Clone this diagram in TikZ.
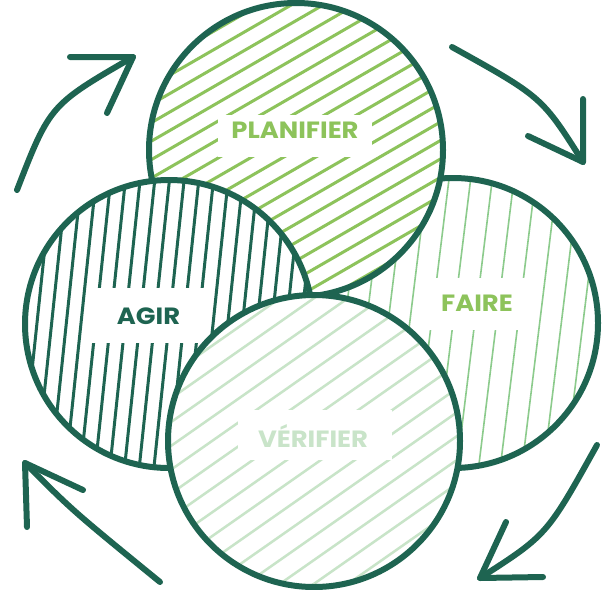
\documentclass[tikz,border=0pt]{standalone}
\usepackage{fontspec}
\setmainfont{Poppins}
\newfontfamily\labfont{Poppins}[FakeStretch=1.1]
\definecolor{dk}{HTML}{1E6451}
\definecolor{lg}{HTML}{8DC35B}
\definecolor{fg}{HTML}{8CCB8C}
\definecolor{vg}{HTML}{C8E4C8}
\definecolor{vt}{HTML}{C9E4C9}
\tikzset{
  ring/.style={circle, draw=dk, line width=6, inner sep=0, outer sep=0},
  labbox/.style={fill=white, inner sep=0, outer sep=0},
  lab/.style={font=\labfont\fontsize{23.5}{23.5}\selectfont\bfseries, inner sep=0, text depth=0pt, anchor=center},
  arr/.style={draw=dk, line width=6, line cap=round, line join=round}
}
% #1 x, #2 y, #3 radius, #4 angle, #5 spacing, #6 line style
\newcommand\hatchdisc[6]{%
  \begin{scope}
    \clip (#1,#2) circle[radius=#3];
    \fill[white] (#1,#2) circle[radius=#3];
    \foreach \k in {-12,...,12}
      \draw[#6] ($(#1,#2)+(#4:-200)+(#4+90:\k*#5)$) -- ($(#1,#2)+(#4:200)+(#4+90:\k*#5)$);
  \end{scope}}
\usetikzlibrary{calc}
\begin{document}
\begin{tikzpicture}[x=1pt, y=-1pt]
\useasboundingbox (0,0) rectangle (604,589);
% FAIRE (bottom layer)
\hatchdisc{453}{323}{145}{-83}{21.5}{fg, line width=1.6}
\node[ring, minimum size=290] (faire) at (453,323) {};
\node[labbox, minimum width=105, minimum height=52] (fbox) at (478,304) {};
\node[lab, text=lg] (flab) at (477,303) {FAIRE};
% PLANIFIER
\hatchdisc{296}{150}{147}{-30}{16}{lg, line width=3}
\node[ring, minimum size=294] (plan) at (296,150) {};
\node[labbox, minimum width=154, minimum height=42] (pbox) at (295,136) {};
\node[lab, text=lg] (plab) at (295,130.5) {PLANIFIER};
% AGIR
\hatchdisc{169}{324}{144}{-84}{14.6}{dk, line width=3}
\node[ring, minimum size=288] (agir) at (169,324) {};
\node[labbox, minimum width=113, minimum height=55] (abox) at (148,315) {};
\node[lab, text=dk] (alab) at (148.5,316.5) {AGIR};
% VERIFIER (top layer)
\hatchdisc{314}{441}{146}{-35}{19.5}{vg, line width=2.5}
\node[ring, minimum size=292] (veri) at (314,441) {};
\node[labbox, minimum width=154, minimum height=50] (vbox) at (315,435) {};
\node[lab, text=vt] (vlab) at (313,436) {VÉRIFIER};
% cycle arrows
\coordinate (tlS) at (17,190);  \coordinate (tlT) at (133,57);
\coordinate (tlA) at (70,57);   \coordinate (tlB) at (107,113);
\coordinate (trS) at (452,47);  \coordinate (trT) at (583,162);
\coordinate (trA) at (583,99);  \coordinate (trB) at (528,136);
\coordinate (brS) at (597,445); \coordinate (brT) at (480,578);
\coordinate (brA) at (543,577); \coordinate (brB) at (506,522);
\coordinate (blS) at (160,582); \coordinate (blT) at (25,463);
\coordinate (blA) at (27,527);  \coordinate (blB) at (83,490);
\draw[arr] (tlS) .. controls (50,105) .. (tlT);
\draw[arr] (tlA) -- (tlT) -- (tlB);
\draw[arr] (trS) .. controls (542,97) .. (trT);
\draw[arr] (trA) -- (trT) -- (trB);
\draw[arr] (brS) .. controls (547,535) .. (brT);
\draw[arr] (brA) -- (brT) -- (brB);
\draw[arr] (blS) .. controls (73,511) .. (blT);
\draw[arr] (blA) -- (blT) -- (blB);
\end{tikzpicture}
\end{document}
